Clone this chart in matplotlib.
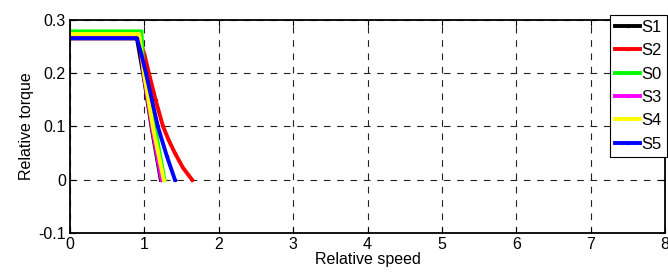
import matplotlib.pyplot as plt
import numpy as np

plt.rcParams['font.family'] = ['Liberation Sans', 'DejaVu Sans']

# speed / torque samples
x_s1 = [0, 0.90, 1.00, 1.10, 1.22]
y_s1 = [0.265, 0.265, 0.185, 0.095, 0.0]
x_s2 = [0, 0.93, 1.00, 1.06, 1.15, 1.25, 1.33, 1.41, 1.52, 1.64]
y_s2 = [0.265, 0.265, 0.235, 0.200, 0.150, 0.100, 0.073, 0.050, 0.022, 0.0]
x_s0 = [0, 0.96, 0.99, 1.06, 1.14, 1.27]
y_s0 = [0.278, 0.278, 0.200, 0.150, 0.100, 0.0]
x_s3 = [0, 0.92, 1.00, 1.10, 1.23]
y_s3 = [0.272, 0.272, 0.190, 0.100, 0.0]
x_s4 = [0, 0.93, 1.00, 1.12, 1.26]
y_s4 = [0.273, 0.273, 0.195, 0.095, 0.0]
x_s5 = [0, 0.90, 0.96, 1.02, 1.10, 1.18, 1.30, 1.41]
y_s5 = [0.265, 0.265, 0.235, 0.200, 0.150, 0.100, 0.045, 0.0]

Linewidth = 2.8

fig = plt.figure(figsize=(6.68, 2.75), dpi=100)
ax = fig.add_axes([0.1048, 0.1527, 0.8907, 0.776])

ax.plot(x_s1, y_s1, label='S1', color='black', marker='.', markersize=3, linewidth=Linewidth)
ax.plot(x_s2, y_s2, label='S2', color='red', marker='.', markersize=3, linewidth=Linewidth)
ax.plot(x_s0, y_s0, label='S0', color='#00ff00', marker='.', markersize=3, linewidth=Linewidth)
ax.plot(x_s3, y_s3, label='S3', color='magenta', marker='.', markersize=3, linewidth=Linewidth)
ax.plot(x_s4, y_s4, label='S4', color='yellow', marker='.', markersize=3, linewidth=Linewidth)
ax.plot(x_s5, y_s5, label='S5', color='blue', marker='.', markersize=3, linewidth=Linewidth)

ax.set_xlim(0, 8)
ax.set_ylim(-0.1, 0.3)
ax.set_xticks(np.arange(0, 9, 1))
ax.set_yticks([-0.1, 0, 0.1, 0.2, 0.3])
ax.set_yticklabels(['-0.1', '0', '0.1', '0.2', '0.3'])
ax.grid(True, linestyle=(0, (6, 6)), color='#222222', linewidth=0.8)
ax.tick_params(direction='in', top=True, right=True, labelsize=11.5, length=4, pad=3)
for s in ax.spines.values():
    s.set_linewidth(1.3)
ax.set_xlabel('Relative speed', fontsize=11.5, labelpad=0)
ax.set_ylabel('Relative torque', fontsize=11.5, labelpad=3)

leg = ax.legend(loc='upper left', bbox_to_anchor=(610 / 668, 1 - 15 / 275),
                bbox_transform=fig.transFigure, fontsize=12, handlelength=1.5,
                handletextpad=0.1, labelspacing=0.5, borderpad=0.3,
                borderaxespad=0, fancybox=False, framealpha=1, edgecolor='black')
leg.get_frame().set_linewidth(0.8)

fig.savefig('out.png', dpi=100)
